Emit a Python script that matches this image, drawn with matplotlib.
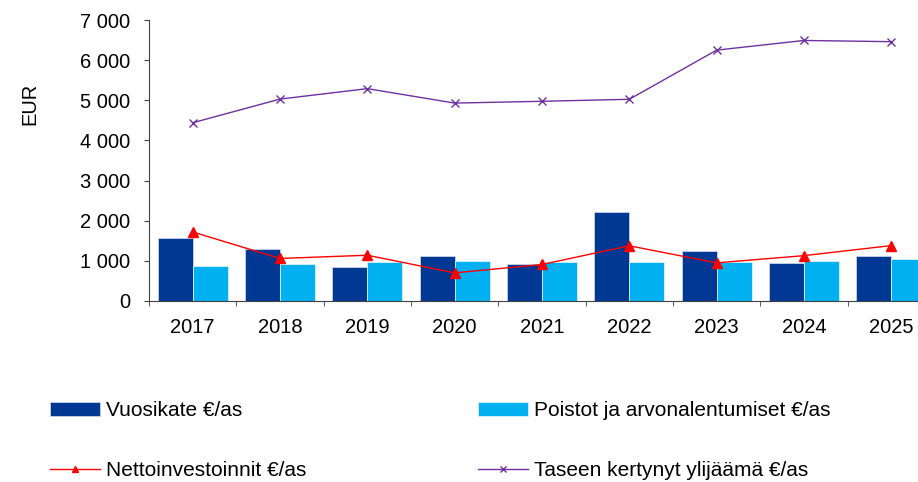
import matplotlib
matplotlib.use("Agg")
import matplotlib.pyplot as plt
import numpy as np
from matplotlib.ticker import FuncFormatter, FixedLocator

plt.rcParams['font.family'] = ['Liberation Sans', 'DejaVu Sans']

years = ["2017", "2018", "2019", "2020", "2021", "2022", "2023", "2024", "2025"]
vuosikate = [1570, 1300, 840, 1115, 915, 2210, 1235, 940, 1110]
poistot = [860, 915, 965, 1000, 975, 965, 975, 990, 1055]
netto = [1720, 1060, 1140, 700, 910, 1375, 950, 1130, 1380]
taseen = [4440, 5030, 5290, 4930, 4975, 5025, 6250, 6490, 6460]

labels = ["Vuosikate €/as", "Poistot ja arvonalentumiset €/as",
          "Nettoinvestoinnit €/as", "Taseen kertynyt ylijäämä €/as"]

fig = plt.figure(figsize=(9.18, 4.82), dpi=100)
ax = fig.add_axes([149/918, 1-301/482, (935-149)/918, (301-20)/482])

x = np.arange(len(years))
w = 0.4
b1 = ax.bar(x - w/2, vuosikate, w, color="#003893", edgecolor="#c8d3ea", linewidth=0.6, zorder=2)
b2 = ax.bar(x + w/2, poistot, w, color="#00B0F0", edgecolor="#d8f2fc", linewidth=0.6, zorder=2)
l1, = ax.plot(x, netto, color="#FF0000", lw=1.0, marker="^", markersize=6.5, zorder=3)
l2, = ax.plot(x, taseen, color="#7030A0", lw=1.0, marker="x", markersize=6, markeredgewidth=1.0, zorder=3)

ax.set_xlim(-0.5, len(years) - 0.5)
ax.set_ylim(0, 7000)
ax.set_yticks(np.arange(0, 7001, 1000))
ax.yaxis.set_major_formatter(FuncFormatter(lambda v, p: f"{int(v):,}".replace(",", " ")))
ax.set_xticks(x)
ax.set_xticklabels(years)
ax.tick_params(axis='x', which='major', length=0, pad=12, labelsize=14.5)
ax.xaxis.set_minor_locator(FixedLocator(np.arange(-0.5, len(years), 1.0)))
ax.tick_params(axis='x', which='minor', length=3.6, direction='out', color='#404040')
ax.tick_params(axis='y', length=3.6, direction='out', labelsize=14.5, pad=10, color='#404040')
for s in ['top', 'right']:
    ax.spines[s].set_visible(False)
for s in ['left', 'bottom']:
    ax.spines[s].set_color('#404040')
ax.set_ylabel("EUR", fontsize=14.5)
ax.yaxis.set_label_coords(-0.139, 0.70)

fig.legend([b1, l1, b2, l2], [labels[0], labels[2], labels[1], labels[3]],
           ncol=2, frameon=False, fontsize=15, markerscale=0.75,
           loc='upper left', bbox_to_anchor=(42/918, 1-393/482),
           handlelength=2.4, handletextpad=0.29, labelspacing=1.97,
           columnspacing=8.2, borderaxespad=0)

fig.savefig("out.png", dpi=100)
